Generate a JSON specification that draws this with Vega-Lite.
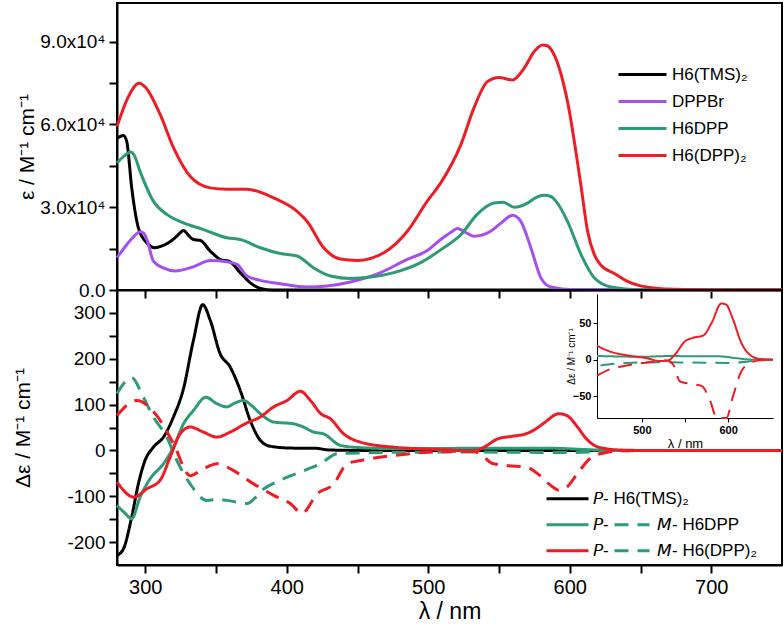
{
  "$schema": "https://vega.github.io/schema/vega-lite/v6.json",
  "padding": {"left": 11, "top": 2, "right": 2, "bottom": 2},
  "background": "white",
  "bounds": "flush",
  "spacing": 0,
  "config": {
    "font": "Liberation Sans",
    "view": {"stroke": "black", "strokeWidth": 2},
    "axis": {"domainColor": "black", "domainWidth": 2, "tickColor": "black", "tickWidth": 2, "tickSize": 8, "labelColor": "black", "titleColor": "black", "grid": false, "labelFontSize": 19, "titleFontSize": 21, "titleFontWeight": "normal", "labelPadding": 4},
    "legend": {"labelColor": "black", "labelFont": "Liberation Sans"}
  },
  "datasets": {
    "abs": [
      {"series": "H6(TMS)₂", "nm": 280, "eps": 55000}, {"series": "H6(TMS)₂", "nm": 284.5, "eps": 56000}, {"series": "H6(TMS)₂", "nm": 286.9, "eps": 53800}, {"series": "H6(TMS)₂", "nm": 290.4, "eps": 37000}, {"series": "H6(TMS)₂", "nm": 295.1, "eps": 22500}, {"series": "H6(TMS)₂", "nm": 301, "eps": 17100}, {"series": "H6(TMS)₂", "nm": 306.9, "eps": 15300}, {"series": "H6(TMS)₂", "nm": 312, "eps": 16000}, {"series": "H6(TMS)₂", "nm": 317.5, "eps": 17500}, {"series": "H6(TMS)₂", "nm": 322.3, "eps": 19500}, {"series": "H6(TMS)₂", "nm": 327, "eps": 21600}, {"series": "H6(TMS)₂", "nm": 330.5, "eps": 19800}, {"series": "H6(TMS)₂", "nm": 334, "eps": 18300}, {"series": "H6(TMS)₂", "nm": 338.8, "eps": 18000}, {"series": "H6(TMS)₂", "nm": 345.9, "eps": 14100}, {"series": "H6(TMS)₂", "nm": 352.9, "eps": 11100}, {"series": "H6(TMS)₂", "nm": 360, "eps": 10200}, {"series": "H6(TMS)₂", "nm": 367.1, "eps": 6300}, {"series": "H6(TMS)₂", "nm": 374.2, "eps": 2600}, {"series": "H6(TMS)₂", "nm": 381.3, "eps": 600}, {"series": "H6(TMS)₂", "nm": 390, "eps": 0}, {"series": "H6(TMS)₂", "nm": 750, "eps": 0},
      {"series": "DPPBr", "nm": 280, "eps": 11700}, {"series": "DPPBr", "nm": 287, "eps": 16500}, {"series": "DPPBr", "nm": 293, "eps": 20000}, {"series": "DPPBr", "nm": 296.3, "eps": 21100}, {"series": "DPPBr", "nm": 299, "eps": 20500}, {"series": "DPPBr", "nm": 301.5, "eps": 17700}, {"series": "DPPBr", "nm": 305.7, "eps": 10500}, {"series": "DPPBr", "nm": 312.8, "eps": 8000}, {"series": "DPPBr", "nm": 321, "eps": 6900}, {"series": "DPPBr", "nm": 334, "eps": 8400}, {"series": "DPPBr", "nm": 345.9, "eps": 10700}, {"series": "DPPBr", "nm": 357.7, "eps": 10200}, {"series": "DPPBr", "nm": 364.8, "eps": 9300}, {"series": "DPPBr", "nm": 371.8, "eps": 5100}, {"series": "DPPBr", "nm": 381.3, "eps": 3500}, {"series": "DPPBr", "nm": 395.4, "eps": 2300}, {"series": "DPPBr", "nm": 414.3, "eps": 1100}, {"series": "DPPBr", "nm": 428.5, "eps": 1450}, {"series": "DPPBr", "nm": 445, "eps": 2900}, {"series": "DPPBr", "nm": 466.3, "eps": 6300}, {"series": "DPPBr", "nm": 485.2, "eps": 11100}, {"series": "DPPBr", "nm": 499.3, "eps": 14300}, {"series": "DPPBr", "nm": 508.8, "eps": 18300}, {"series": "DPPBr", "nm": 515.8, "eps": 20800}, {"series": "DPPBr", "nm": 520.5, "eps": 22300}, {"series": "DPPBr", "nm": 526, "eps": 21000}, {"series": "DPPBr", "nm": 532.3, "eps": 19500}, {"series": "DPPBr", "nm": 544.1, "eps": 21300}, {"series": "DPPBr", "nm": 552, "eps": 24500}, {"series": "DPPBr", "nm": 559.5, "eps": 27100}, {"series": "DPPBr", "nm": 565.4, "eps": 24900}, {"series": "DPPBr", "nm": 572.5, "eps": 15300}, {"series": "DPPBr", "nm": 579.6, "eps": 4400}, {"series": "DPPBr", "nm": 586.6, "eps": 1100}, {"series": "DPPBr", "nm": 603.2, "eps": 100}, {"series": "DPPBr", "nm": 620, "eps": 0}, {"series": "DPPBr", "nm": 750, "eps": 0},
      {"series": "H6DPP", "nm": 280, "eps": 46000}, {"series": "H6DPP", "nm": 285, "eps": 48500}, {"series": "H6DPP", "nm": 289.7, "eps": 50000}, {"series": "H6DPP", "nm": 292, "eps": 49000}, {"series": "H6DPP", "nm": 296.3, "eps": 43000}, {"series": "H6DPP", "nm": 305.7, "eps": 32200}, {"series": "H6DPP", "nm": 315.2, "eps": 27400}, {"series": "H6DPP", "nm": 327, "eps": 24300}, {"series": "H6DPP", "nm": 341.1, "eps": 21900}, {"series": "H6DPP", "nm": 357.7, "eps": 18900}, {"series": "H6DPP", "nm": 367.1, "eps": 18300}, {"series": "H6DPP", "nm": 381.3, "eps": 15300}, {"series": "H6DPP", "nm": 395.4, "eps": 13200}, {"series": "H6DPP", "nm": 407.3, "eps": 12300}, {"series": "H6DPP", "nm": 419, "eps": 8000}, {"series": "H6DPP", "nm": 430.8, "eps": 5100}, {"series": "H6DPP", "nm": 445, "eps": 4200}, {"series": "H6DPP", "nm": 459.2, "eps": 4700}, {"series": "H6DPP", "nm": 475.7, "eps": 6300}, {"series": "H6DPP", "nm": 494.6, "eps": 9900}, {"series": "H6DPP", "nm": 510, "eps": 15000}, {"series": "H6DPP", "nm": 523, "eps": 20000}, {"series": "H6DPP", "nm": 534.7, "eps": 27500}, {"series": "H6DPP", "nm": 546.5, "eps": 31500}, {"series": "H6DPP", "nm": 553, "eps": 31800}, {"series": "H6DPP", "nm": 560.7, "eps": 30000}, {"series": "H6DPP", "nm": 570.1, "eps": 31500}, {"series": "H6DPP", "nm": 576, "eps": 33500}, {"series": "H6DPP", "nm": 581.9, "eps": 34300}, {"series": "H6DPP", "nm": 587, "eps": 33800}, {"series": "H6DPP", "nm": 590.2, "eps": 32200}, {"series": "H6DPP", "nm": 598.4, "eps": 24900}, {"series": "H6DPP", "nm": 607.9, "eps": 12900}, {"series": "H6DPP", "nm": 617.3, "eps": 4400}, {"series": "H6DPP", "nm": 629.1, "eps": 1100}, {"series": "H6DPP", "nm": 650.4, "eps": 100}, {"series": "H6DPP", "nm": 670, "eps": 0}, {"series": "H6DPP", "nm": 750, "eps": 0},
      {"series": "H6(DPP)₂", "nm": 280, "eps": 59200}, {"series": "H6(DPP)₂", "nm": 288, "eps": 70000}, {"series": "H6(DPP)₂", "nm": 295.6, "eps": 74900}, {"series": "H6(DPP)₂", "nm": 300, "eps": 73500}, {"series": "H6(DPP)₂", "nm": 310.5, "eps": 63600}, {"series": "H6(DPP)₂", "nm": 320, "eps": 51500}, {"series": "H6(DPP)₂", "nm": 331.7, "eps": 41200}, {"series": "H6(DPP)₂", "nm": 345.9, "eps": 37000}, {"series": "H6(DPP)₂", "nm": 357.7, "eps": 36500}, {"series": "H6(DPP)₂", "nm": 371.8, "eps": 36500}, {"series": "H6(DPP)₂", "nm": 390.6, "eps": 33400}, {"series": "H6(DPP)₂", "nm": 407.3, "eps": 28500}, {"series": "H6(DPP)₂", "nm": 414.3, "eps": 24900}, {"series": "H6(DPP)₂", "nm": 426.1, "eps": 15300}, {"series": "H6(DPP)₂", "nm": 437.9, "eps": 11200}, {"series": "H6(DPP)₂", "nm": 449.7, "eps": 10700}, {"series": "H6(DPP)₂", "nm": 468.6, "eps": 13500}, {"series": "H6(DPP)₂", "nm": 485.2, "eps": 21300}, {"series": "H6(DPP)₂", "nm": 499.3, "eps": 32200}, {"series": "H6(DPP)₂", "nm": 508.8, "eps": 38800}, {"series": "H6(DPP)₂", "nm": 522.9, "eps": 52500}, {"series": "H6(DPP)₂", "nm": 532.3, "eps": 66000}, {"series": "H6(DPP)₂", "nm": 541.8, "eps": 75500}, {"series": "H6(DPP)₂", "nm": 550, "eps": 77000}, {"series": "H6(DPP)₂", "nm": 559.5, "eps": 76100}, {"series": "H6(DPP)₂", "nm": 567.7, "eps": 80300}, {"series": "H6(DPP)₂", "nm": 575, "eps": 86500}, {"series": "H6(DPP)₂", "nm": 580.7, "eps": 88800}, {"series": "H6(DPP)₂", "nm": 584, "eps": 88500}, {"series": "H6(DPP)₂", "nm": 589, "eps": 85200}, {"series": "H6(DPP)₂", "nm": 598.4, "eps": 68300}, {"series": "H6(DPP)₂", "nm": 607.8, "eps": 38200}, {"series": "H6(DPP)₂", "nm": 612.6, "eps": 21300}, {"series": "H6(DPP)₂", "nm": 617.3, "eps": 12900}, {"series": "H6(DPP)₂", "nm": 622, "eps": 9000}, {"series": "H6(DPP)₂", "nm": 631.5, "eps": 6000}, {"series": "H6(DPP)₂", "nm": 640, "eps": 3300}, {"series": "H6(DPP)₂", "nm": 650, "eps": 1500}, {"series": "H6(DPP)₂", "nm": 674, "eps": 250}, {"series": "H6(DPP)₂", "nm": 700, "eps": 0}, {"series": "H6(DPP)₂", "nm": 750, "eps": 0}
    ],
    "cd": [
      {"series": "H6(TMS)₂", "style": "solid", "nm": 280, "eps": -229}, {"series": "H6(TMS)₂", "style": "solid", "nm": 284.5, "eps": -215}, {"series": "H6(TMS)₂", "style": "solid", "nm": 290.4, "eps": -145}, {"series": "H6(TMS)₂", "style": "solid", "nm": 295.1, "eps": -73}, {"series": "H6(TMS)₂", "style": "solid", "nm": 299.8, "eps": -22}, {"series": "H6(TMS)₂", "style": "solid", "nm": 305.7, "eps": 7}, {"series": "H6(TMS)₂", "style": "solid", "nm": 312.8, "eps": 29}, {"series": "H6(TMS)₂", "style": "solid", "nm": 319.9, "eps": 73}, {"series": "H6(TMS)₂", "style": "solid", "nm": 327, "eps": 135}, {"series": "H6(TMS)₂", "style": "solid", "nm": 334, "eps": 240}, {"series": "H6(TMS)₂", "style": "solid", "nm": 340.6, "eps": 318}, {"series": "H6(TMS)₂", "style": "solid", "nm": 345.9, "eps": 284}, {"series": "H6(TMS)₂", "style": "solid", "nm": 352.9, "eps": 211}, {"series": "H6(TMS)₂", "style": "solid", "nm": 360, "eps": 182}, {"series": "H6(TMS)₂", "style": "solid", "nm": 367.1, "eps": 131}, {"series": "H6(TMS)₂", "style": "solid", "nm": 374.2, "eps": 65}, {"series": "H6(TMS)₂", "style": "solid", "nm": 381.3, "eps": 22}, {"series": "H6(TMS)₂", "style": "solid", "nm": 388.4, "eps": 9}, {"series": "H6(TMS)₂", "style": "solid", "nm": 404.9, "eps": 5}, {"series": "H6(TMS)₂", "style": "solid", "nm": 419, "eps": 5}, {"series": "H6(TMS)₂", "style": "solid", "nm": 430, "eps": 1}, {"series": "H6(TMS)₂", "style": "solid", "nm": 450, "eps": 0}, {"series": "H6(TMS)₂", "style": "solid", "nm": 750, "eps": 0},
      {"series": "H6DPP", "style": "solid", "nm": 280, "eps": -120}, {"series": "H6DPP", "style": "solid", "nm": 285, "eps": -135}, {"series": "H6DPP", "style": "solid", "nm": 290.4, "eps": -149}, {"series": "H6DPP", "style": "solid", "nm": 296.3, "eps": -102}, {"series": "H6DPP", "style": "solid", "nm": 303.4, "eps": -62}, {"series": "H6DPP", "style": "solid", "nm": 312.8, "eps": -29}, {"series": "H6DPP", "style": "solid", "nm": 319.9, "eps": 7}, {"series": "H6DPP", "style": "solid", "nm": 327, "eps": 58}, {"series": "H6DPP", "style": "solid", "nm": 334, "eps": 87}, {"series": "H6DPP", "style": "solid", "nm": 342.8, "eps": 116}, {"series": "H6DPP", "style": "solid", "nm": 350.6, "eps": 102}, {"series": "H6DPP", "style": "solid", "nm": 357.7, "eps": 95}, {"series": "H6DPP", "style": "solid", "nm": 363, "eps": 103}, {"series": "H6DPP", "style": "solid", "nm": 369.4, "eps": 109}, {"series": "H6DPP", "style": "solid", "nm": 375, "eps": 98}, {"series": "H6DPP", "style": "solid", "nm": 381.3, "eps": 80}, {"series": "H6DPP", "style": "solid", "nm": 390.7, "eps": 62}, {"series": "H6DPP", "style": "solid", "nm": 404.9, "eps": 58}, {"series": "H6DPP", "style": "solid", "nm": 411, "eps": 52}, {"series": "H6DPP", "style": "solid", "nm": 419, "eps": 40}, {"series": "H6DPP", "style": "solid", "nm": 426.1, "eps": 36}, {"series": "H6DPP", "style": "solid", "nm": 437.9, "eps": 11}, {"series": "H6DPP", "style": "solid", "nm": 452.1, "eps": 6}, {"series": "H6DPP", "style": "solid", "nm": 475.7, "eps": 4}, {"series": "H6DPP", "style": "solid", "nm": 500, "eps": 4}, {"series": "H6DPP", "style": "solid", "nm": 540, "eps": 5}, {"series": "H6DPP", "style": "solid", "nm": 560, "eps": 5}, {"series": "H6DPP", "style": "solid", "nm": 590, "eps": 4.5}, {"series": "H6DPP", "style": "solid", "nm": 610, "eps": 2}, {"series": "H6DPP", "style": "solid", "nm": 630, "eps": 0}, {"series": "H6DPP", "style": "solid", "nm": 750, "eps": 0},
      {"series": "H6DPP", "style": "M- H6DPP", "nm": 280, "eps": 124}, {"series": "H6DPP", "style": "M- H6DPP", "nm": 290.4, "eps": 159}, {"series": "H6DPP", "style": "M- H6DPP", "nm": 298.6, "eps": 116}, {"series": "H6DPP", "style": "M- H6DPP", "nm": 305.7, "eps": 73}, {"series": "H6DPP", "style": "M- H6DPP", "nm": 315.2, "eps": 29}, {"series": "H6DPP", "style": "M- H6DPP", "nm": 322.3, "eps": -22}, {"series": "H6DPP", "style": "M- H6DPP", "nm": 331.7, "eps": -73}, {"series": "H6DPP", "style": "M- H6DPP", "nm": 343.5, "eps": -109}, {"series": "H6DPP", "style": "M- H6DPP", "nm": 350, "eps": -107}, {"series": "H6DPP", "style": "M- H6DPP", "nm": 357.7, "eps": -109}, {"series": "H6DPP", "style": "M- H6DPP", "nm": 371.8, "eps": -116}, {"series": "H6DPP", "style": "M- H6DPP", "nm": 383.6, "eps": -84}, {"series": "H6DPP", "style": "M- H6DPP", "nm": 395.4, "eps": -65}, {"series": "H6DPP", "style": "M- H6DPP", "nm": 409.6, "eps": -47}, {"series": "H6DPP", "style": "M- H6DPP", "nm": 423.8, "eps": -29}, {"series": "H6DPP", "style": "M- H6DPP", "nm": 435.6, "eps": -7}, {"series": "H6DPP", "style": "M- H6DPP", "nm": 445, "eps": -6}, {"series": "H6DPP", "style": "M- H6DPP", "nm": 480, "eps": -4}, {"series": "H6DPP", "style": "M- H6DPP", "nm": 520, "eps": -3.5}, {"series": "H6DPP", "style": "M- H6DPP", "nm": 560, "eps": -4}, {"series": "H6DPP", "style": "M- H6DPP", "nm": 598, "eps": -4.5}, {"series": "H6DPP", "style": "M- H6DPP", "nm": 621, "eps": -3}, {"series": "H6DPP", "style": "M- H6DPP", "nm": 640, "eps": 0}, {"series": "H6DPP", "style": "M- H6DPP", "nm": 750, "eps": 0},
      {"series": "H6(DPP)₂", "style": "solid", "nm": 280, "eps": -69}, {"series": "H6(DPP)₂", "style": "solid", "nm": 292, "eps": -102}, {"series": "H6(DPP)₂", "style": "solid", "nm": 301, "eps": -84}, {"series": "H6(DPP)₂", "style": "solid", "nm": 310.5, "eps": -65}, {"series": "H6(DPP)₂", "style": "solid", "nm": 317.5, "eps": -15}, {"series": "H6(DPP)₂", "style": "solid", "nm": 324.6, "eps": 36}, {"series": "H6(DPP)₂", "style": "solid", "nm": 331.7, "eps": 51}, {"series": "H6(DPP)₂", "style": "solid", "nm": 341.1, "eps": 40}, {"series": "H6(DPP)₂", "style": "solid", "nm": 350.6, "eps": 29}, {"series": "H6(DPP)₂", "style": "solid", "nm": 360, "eps": 40}, {"series": "H6(DPP)₂", "style": "solid", "nm": 371.8, "eps": 60}, {"series": "H6(DPP)₂", "style": "solid", "nm": 381.3, "eps": 73}, {"series": "H6(DPP)₂", "style": "solid", "nm": 390.7, "eps": 95}, {"series": "H6(DPP)₂", "style": "solid", "nm": 400.2, "eps": 109}, {"series": "H6(DPP)₂", "style": "solid", "nm": 409.6, "eps": 129}, {"series": "H6(DPP)₂", "style": "solid", "nm": 416.7, "eps": 109}, {"series": "H6(DPP)₂", "style": "solid", "nm": 423.8, "eps": 81}, {"series": "H6(DPP)₂", "style": "solid", "nm": 430.8, "eps": 69}, {"series": "H6(DPP)₂", "style": "solid", "nm": 440.3, "eps": 36}, {"series": "H6(DPP)₂", "style": "solid", "nm": 452.1, "eps": 18}, {"series": "H6(DPP)₂", "style": "solid", "nm": 475.7, "eps": 7}, {"series": "H6(DPP)₂", "style": "solid", "nm": 499.3, "eps": 3}, {"series": "H6(DPP)₂", "style": "solid", "nm": 520, "eps": 0}, {"series": "H6(DPP)₂", "style": "solid", "nm": 528, "eps": -2}, {"series": "H6(DPP)₂", "style": "solid", "nm": 533, "eps": -1}, {"series": "H6(DPP)₂", "style": "solid", "nm": 540, "eps": 8}, {"series": "H6(DPP)₂", "style": "solid", "nm": 548.9, "eps": 25}, {"series": "H6(DPP)₂", "style": "solid", "nm": 559.5, "eps": 31}, {"series": "H6(DPP)₂", "style": "solid", "nm": 567.7, "eps": 35}, {"series": "H6(DPP)₂", "style": "solid", "nm": 575, "eps": 45}, {"series": "H6(DPP)₂", "style": "solid", "nm": 581, "eps": 58}, {"series": "H6(DPP)₂", "style": "solid", "nm": 592.5, "eps": 80}, {"series": "H6(DPP)₂", "style": "solid", "nm": 598, "eps": 76}, {"series": "H6(DPP)₂", "style": "solid", "nm": 605.5, "eps": 51}, {"series": "H6(DPP)₂", "style": "solid", "nm": 611, "eps": 28}, {"series": "H6(DPP)₂", "style": "solid", "nm": 617.3, "eps": 11}, {"series": "H6(DPP)₂", "style": "solid", "nm": 625, "eps": 4}, {"series": "H6(DPP)₂", "style": "solid", "nm": 635, "eps": 1}, {"series": "H6(DPP)₂", "style": "solid", "nm": 650, "eps": 0}, {"series": "H6(DPP)₂", "style": "solid", "nm": 750, "eps": 0},
      {"series": "H6(DPP)₂", "style": "M- H6(DPP)₂", "nm": 280, "eps": 76}, {"series": "H6(DPP)₂", "style": "M- H6(DPP)₂", "nm": 293.9, "eps": 109}, {"series": "H6(DPP)₂", "style": "M- H6(DPP)₂", "nm": 308.1, "eps": 76}, {"series": "H6(DPP)₂", "style": "M- H6(DPP)₂", "nm": 319.9, "eps": 15}, {"series": "H6(DPP)₂", "style": "M- H6(DPP)₂", "nm": 331.7, "eps": -55}, {"series": "H6(DPP)₂", "style": "M- H6(DPP)₂", "nm": 341.1, "eps": -40}, {"series": "H6(DPP)₂", "style": "M- H6(DPP)₂", "nm": 350.6, "eps": -29}, {"series": "H6(DPP)₂", "style": "M- H6(DPP)₂", "nm": 362.4, "eps": -44}, {"series": "H6(DPP)₂", "style": "M- H6(DPP)₂", "nm": 376.5, "eps": -73}, {"series": "H6(DPP)₂", "style": "M- H6(DPP)₂", "nm": 390.7, "eps": -98}, {"series": "H6(DPP)₂", "style": "M- H6(DPP)₂", "nm": 402.5, "eps": -116}, {"series": "H6(DPP)₂", "style": "M- H6(DPP)₂", "nm": 410.8, "eps": -137}, {"series": "H6(DPP)₂", "style": "M- H6(DPP)₂", "nm": 421.4, "eps": -95}, {"series": "H6(DPP)₂", "style": "M- H6(DPP)₂", "nm": 433.2, "eps": -73}, {"series": "H6(DPP)₂", "style": "M- H6(DPP)₂", "nm": 442.7, "eps": -29}, {"series": "H6(DPP)₂", "style": "M- H6(DPP)₂", "nm": 452.1, "eps": -22}, {"series": "H6(DPP)₂", "style": "M- H6(DPP)₂", "nm": 475.7, "eps": -11}, {"series": "H6(DPP)₂", "style": "M- H6(DPP)₂", "nm": 499.3, "eps": -4}, {"series": "H6(DPP)₂", "style": "M- H6(DPP)₂", "nm": 520, "eps": -2}, {"series": "H6(DPP)₂", "style": "M- H6(DPP)₂", "nm": 530, "eps": -1}, {"series": "H6(DPP)₂", "style": "M- H6(DPP)₂", "nm": 537, "eps": -8}, {"series": "H6(DPP)₂", "style": "M- H6(DPP)₂", "nm": 545, "eps": -28}, {"series": "H6(DPP)₂", "style": "M- H6(DPP)₂", "nm": 555, "eps": -33}, {"series": "H6(DPP)₂", "style": "M- H6(DPP)₂", "nm": 569, "eps": -36}, {"series": "H6(DPP)₂", "style": "M- H6(DPP)₂", "nm": 579, "eps": -55}, {"series": "H6(DPP)₂", "style": "M- H6(DPP)₂", "nm": 588, "eps": -80}, {"series": "H6(DPP)₂", "style": "M- H6(DPP)₂", "nm": 592.5, "eps": -87}, {"series": "H6(DPP)₂", "style": "M- H6(DPP)₂", "nm": 598, "eps": -80}, {"series": "H6(DPP)₂", "style": "M- H6(DPP)₂", "nm": 605.5, "eps": -50}, {"series": "H6(DPP)₂", "style": "M- H6(DPP)₂", "nm": 615, "eps": -16}, {"series": "H6(DPP)₂", "style": "M- H6(DPP)₂", "nm": 625, "eps": -5}, {"series": "H6(DPP)₂", "style": "M- H6(DPP)₂", "nm": 636, "eps": -1}, {"series": "H6(DPP)₂", "style": "M- H6(DPP)₂", "nm": 650, "eps": 0}, {"series": "H6(DPP)₂", "style": "M- H6(DPP)₂", "nm": 750, "eps": 0}
    ],
    "inset": [
      {"series": "H6DPP", "style": "solid", "nm": 448, "eps": 5}, {"series": "H6DPP", "style": "solid", "nm": 502, "eps": 4}, {"series": "H6DPP", "style": "solid", "nm": 532.6, "eps": 5}, {"series": "H6DPP", "style": "solid", "nm": 559.5, "eps": 4.5}, {"series": "H6DPP", "style": "solid", "nm": 590, "eps": 4.5}, {"series": "H6DPP", "style": "solid", "nm": 609.5, "eps": 2}, {"series": "H6DPP", "style": "solid", "nm": 628.8, "eps": 0}, {"series": "H6DPP", "style": "solid", "nm": 652, "eps": 0},
      {"series": "H6DPP", "style": "M- H6DPP", "nm": 452, "eps": -8}, {"series": "H6DPP", "style": "M- H6DPP", "nm": 482.6, "eps": -4.5}, {"series": "H6DPP", "style": "M- H6DPP", "nm": 521, "eps": -3.6}, {"series": "H6DPP", "style": "M- H6DPP", "nm": 559.5, "eps": -4}, {"series": "H6DPP", "style": "M- H6DPP", "nm": 598, "eps": -4.5}, {"series": "H6DPP", "style": "M- H6DPP", "nm": 621, "eps": -3}, {"series": "H6DPP", "style": "M- H6DPP", "nm": 640, "eps": 0}, {"series": "H6DPP", "style": "M- H6DPP", "nm": 652, "eps": 0},
      {"series": "H6(DPP)₂", "style": "solid", "nm": 448, "eps": 19}, {"series": "H6(DPP)₂", "style": "solid", "nm": 463.4, "eps": 11}, {"series": "H6(DPP)₂", "style": "solid", "nm": 482.6, "eps": 6}, {"series": "H6(DPP)₂", "style": "solid", "nm": 505.7, "eps": 2}, {"series": "H6(DPP)₂", "style": "solid", "nm": 521, "eps": -2}, {"series": "H6(DPP)₂", "style": "solid", "nm": 530.7, "eps": -1}, {"series": "H6(DPP)₂", "style": "solid", "nm": 538.4, "eps": 7}, {"series": "H6(DPP)₂", "style": "solid", "nm": 549.9, "eps": 25}, {"series": "H6(DPP)₂", "style": "solid", "nm": 559.5, "eps": 30}, {"series": "H6(DPP)₂", "style": "solid", "nm": 571, "eps": 33}, {"series": "H6(DPP)₂", "style": "solid", "nm": 580.7, "eps": 50}, {"series": "H6(DPP)₂", "style": "solid", "nm": 592.2, "eps": 77}, {"series": "H6(DPP)₂", "style": "solid", "nm": 598, "eps": 75}, {"series": "H6(DPP)₂", "style": "solid", "nm": 605.7, "eps": 55}, {"series": "H6(DPP)₂", "style": "solid", "nm": 615.3, "eps": 23}, {"series": "H6(DPP)₂", "style": "solid", "nm": 624.9, "eps": 7}, {"series": "H6(DPP)₂", "style": "solid", "nm": 636.5, "eps": 1}, {"series": "H6(DPP)₂", "style": "solid", "nm": 652, "eps": 0},
      {"series": "H6(DPP)₂", "style": "M- H6(DPP)₂", "nm": 448, "eps": -22}, {"series": "H6(DPP)₂", "style": "M- H6(DPP)₂", "nm": 463.4, "eps": -13}, {"series": "H6(DPP)₂", "style": "M- H6(DPP)₂", "nm": 482.6, "eps": -8}, {"series": "H6(DPP)₂", "style": "M- H6(DPP)₂", "nm": 505.7, "eps": -4}, {"series": "H6(DPP)₂", "style": "M- H6(DPP)₂", "nm": 528.8, "eps": -1}, {"series": "H6(DPP)₂", "style": "M- H6(DPP)₂", "nm": 536.5, "eps": -7}, {"series": "H6(DPP)₂", "style": "M- H6(DPP)₂", "nm": 544.2, "eps": -30}, {"series": "H6(DPP)₂", "style": "M- H6(DPP)₂", "nm": 555.7, "eps": -33}, {"series": "H6(DPP)₂", "style": "M- H6(DPP)₂", "nm": 569.2, "eps": -36}, {"series": "H6(DPP)₂", "style": "M- H6(DPP)₂", "nm": 578.8, "eps": -55}, {"series": "H6(DPP)₂", "style": "M- H6(DPP)₂", "nm": 587, "eps": -80}, {"series": "H6(DPP)₂", "style": "M- H6(DPP)₂", "nm": 598, "eps": -80}, {"series": "H6(DPP)₂", "style": "M- H6(DPP)₂", "nm": 605.7, "eps": -50}, {"series": "H6(DPP)₂", "style": "M- H6(DPP)₂", "nm": 615.3, "eps": -16}, {"series": "H6(DPP)₂", "style": "M- H6(DPP)₂", "nm": 624.9, "eps": -5}, {"series": "H6(DPP)₂", "style": "M- H6(DPP)₂", "nm": 636.5, "eps": -1}, {"series": "H6(DPP)₂", "style": "M- H6(DPP)₂", "nm": 652, "eps": 0}
    ]
  },
  "resolve": {"scale": {"color": "independent", "strokeDash": "independent", "x": "independent", "y": "independent"}, "legend": {"color": "independent", "strokeDash": "independent"}},
  "vconcat": [
    {
      "width": 665,
      "height": 287,
      "data": {"name": "abs"},
      "mark": {"type": "line", "interpolate": "monotone", "strokeWidth": 3},
      "encoding": {
        "x": {"field": "nm", "type": "quantitative", "scale": {"domain": [280, 750], "nice": false, "zero": false}, "axis": {"values": [300, 350, 400, 450, 500, 550, 600, 650, 700], "labels": false, "title": null}},
        "y": {"field": "eps", "type": "quantitative", "scale": {"domain": [0, 104000], "nice": false}, "axis": {"values": [0, 15000, 30000, 45000, 60000, 75000, 90000], "labelExpr": "datum.value % 30000 == 0 ? (datum.value == 0 ? '0.0' : format(datum.value / 10000, '.1f') + 'x10⁴') : ''", "title": "ε / M⁻¹ cm⁻¹", "titlePadding": 2}},
        "color": {"field": "series", "type": "nominal", "scale": {"domain": ["H6(TMS)₂", "DPPBr", "H6DPP", "H6(DPP)₂"], "range": ["#000000", "#a64ff0", "#2e9a76", "#ee1c24"]}, "legend": {"orient": "none", "legendX": 500, "legendY": 58, "title": null, "symbolType": "stroke", "symbolSize": 2304, "symbolStrokeWidth": 3, "labelFontSize": 17, "clipHeight": 27, "rowPadding": 0, "labelOffset": 4, "padding": 0}}
      }
    },
    {
      "width": 665,
      "height": 275,
      "resolve": {"scale": {"x": "independent", "y": "independent"}},
      "layer": [
        {
          "data": {"name": "cd"},
          "mark": {"type": "line", "interpolate": "monotone", "strokeWidth": 3},
          "encoding": {
            "x": {"field": "nm", "type": "quantitative", "scale": {"domain": [280, 750], "nice": false, "zero": false}, "axis": {"orient": "bottom", "values": [300, 350, 400, 450, 500, 550, 600, 650, 700], "labelExpr": "datum.value % 100 == 0 ? datum.label : ''", "title": "λ / nm", "titleFontSize": 23, "labelFontSize": 20, "titlePadding": 3}},
            "y": {"field": "eps", "type": "quantitative", "scale": {"domain": [-250, 350], "nice": false, "zero": false}, "axis": {"orient": "left", "values": [-200, -150, -100, -50, 0, 50, 100, 150, 200, 250, 300], "labelExpr": "datum.value % 100 == 0 ? '' + datum.value : ''", "title": "Δε / M⁻¹ cm⁻¹", "titlePadding": 33}},
            "color": {"field": "series", "type": "nominal", "scale": {"domain": ["H6(TMS)₂", "H6DPP", "H6(DPP)₂"], "range": ["#000000", "#2e9a76", "#ee1c24"]}, "legend": {"orient": "none", "legendX": 428, "legendY": 196, "title": null, "symbolType": "stroke", "symbolSize": 1764, "symbolStrokeWidth": 3, "labelFontSize": 17, "clipHeight": 25.5, "rowPadding": 0, "labelOffset": 3, "padding": 0, "labelExpr": "datum.label == 'H6(TMS)₂' ? '𝘗- H6(TMS)₂' : '𝘗-'"}},
            "strokeDash": {"field": "style", "type": "nominal", "scale": {"domain": ["solid", "M- H6DPP", "M- H6(DPP)₂"], "range": [[1, 0], [14, 9], [14, 9]]}, "legend": {"orient": "none", "legendX": 496, "legendY": 222, "title": null, "values": ["M- H6DPP", "M- H6(DPP)₂"], "symbolType": "stroke", "symbolSize": 1225, "symbolStrokeColor": "#2e9a76", "symbolStrokeWidth": 3, "labelFontSize": 17, "clipHeight": 25.5, "rowPadding": 0, "labelOffset": 6, "padding": 0, "labelExpr": "replace(datum.label, 'M-', '𝘔-')"}}
          }
        },
        {
          "data": {"name": "inset"},
          "mark": {"type": "line", "interpolate": "monotone", "strokeWidth": 2},
          "encoding": {
            "x": {"field": "nm", "type": "quantitative", "scale": {"domain": [448, 652], "range": [480, 656], "nice": false, "zero": false}, "axis": {"orient": "bottom", "offset": -147, "values": [500, 550, 600], "labelExpr": "datum.value % 100 == 0 ? datum.label : ''", "title": "λ / nm", "labelFontSize": 11, "labelFontWeight": "bold", "titleFontSize": 13, "tickSize": 4, "tickWidth": 1, "domainWidth": 1, "labelPadding": 2, "titlePadding": 2}},
            "y": {"field": "eps", "type": "quantitative", "scale": {"domain": [-80, 90], "range": [128, 4], "nice": false, "zero": false}, "axis": {"orient": "left", "offset": -480, "values": [-50, 0, 50], "title": "Δε / M⁻¹ cm⁻¹", "labelFontSize": 11, "labelFontWeight": "bold", "titleFontSize": 10, "tickSize": 4, "tickWidth": 1, "domainWidth": 1, "labelPadding": 2, "titlePadding": -4}},
            "color": {"field": "series", "type": "nominal"},
            "strokeDash": {"field": "style", "type": "nominal"}
          }
        }
      ]
    }
  ]
}
